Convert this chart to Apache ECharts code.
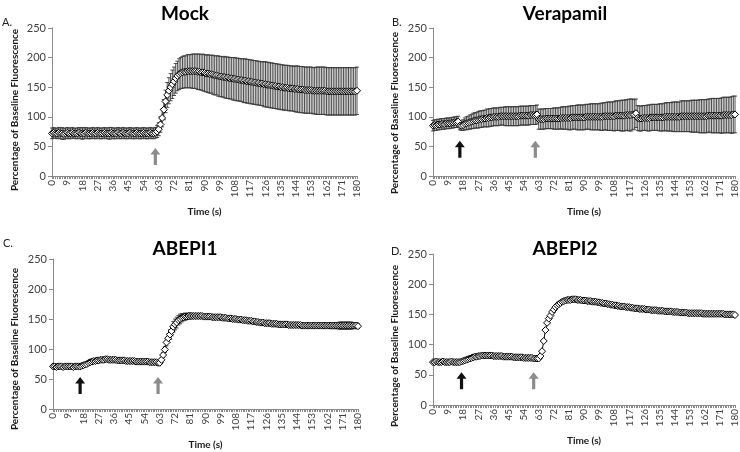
<!DOCTYPE html>
<html><head><meta charset="utf-8">
<script src="https://cdn.jsdelivr.net/npm/echarts@6/dist/echarts.min.js"></script>
<style>html,body{margin:0;padding:0;background:#fff}#c{width:740px;height:452px}</style>
</head><body><div id="c"></div>
<script>
const times = [0,1,2,3,4,5,6,7,8,9,10,11,12,13,14,15,16,17,18,19,20,21,22,23,24,25,26,27,28,29,30,31,32,33,34,35,36,37,38,39,40,41,42,43,44,45,46,47,48,49,50,51,52,53,54,55,56,57,58,59,60,61,62,63,64,65,66,67,68,69,70,71,72,73,74,75,76,77,78,79,80,81,82,83,84,85,86,87,88,89,90,91,92,93,94,95,96,97,98,99,100,101,102,103,104,105,106,107,108,109,110,111,112,113,114,115,116,117,118,119,120,121,122,123,124,125,126,127,128,129,130,131,132,133,134,135,136,137,138,139,140,141,142,143,144,145,146,147,148,149,150,151,152,153,154,155,156,157,158,159,160,161,162,163,164,165,166,167,168,169,170,171,172,173,174,175,176,177,178,179,180];

const yTicks = [0, 50, 100, 150, 200, 250];
const panelTitles = ['Mock', 'Verapamil', 'ABEPI1', 'ABEPI2'];
const panelLetters = ['A.', 'B.', 'C.', 'D.'];

const mockMean = [
72,73,72,72,73,72,72,71,72,73,
72,72,73,72,72,72,73,72,72,72,
73,72,72,72,73,72,72,73,72,72,
72,73,72,72,72,73,72,72,72,73,
72,72,73,72,72,72,73,72,72,72,
73,72,72,72,73,72,72,72,73,72,
72,73,75,79,87,98,112,126,137,144,
150,155,160,165,169,172,174,175,176,176,
177,177,177,177,177,177,176,176,175,175,
174,173,173,172,172,171,170,170,169,168,
168,167,167,166,166,165,165,164,164,163,
163,162,162,161,161,160,160,159,159,158,
158,157,157,156,156,155,155,154,154,153,
153,152,152,151,151,150,150,149,149,149,
148,148,148,147,147,147,146,146,146,145,
145,145,145,145,144,144,144,144,144,144,
144,144,143,143,143,143,143,143,143,143,
143,143,143,143,143,143,143,143,143,143,
144];
const mockErr = [
9,9,8,9,9,9,10,9,9,9,
9,9,9,8,9,9,9,9,10,9,
9,9,9,9,9,9,9,9,9,9,
9,9,9,9,10,9,9,9,9,9,
9,9,9,9,9,9,9,9,9,9,
9,9,9,9,9,9,9,9,9,9,
9,9,10,11,13,15,17,19,21,22,
23,24,24,25,25,26,26,27,27,27,
28,28,28,29,29,29,30,30,30,31,
31,31,32,32,32,33,33,33,34,34,
34,34,35,35,35,35,35,36,36,36,
36,36,36,37,37,37,37,37,37,37,
37,37,37,37,37,38,38,38,38,38,
38,38,38,38,38,38,38,38,38,38,
38,38,38,38,39,39,39,39,39,39,
39,39,39,39,39,39,40,40,40,40,
40,40,40,40,40,40,40,40,40,40,
40,40,40,40,40,40,40,40,40,40,
40];

const veraMean = [
85,86,86,87,87,88,88,88,89,89,
89,90,90,91,91,92,85,85,86,88,
89,90,91,92,93,94,94,95,96,96,
97,97,98,98,99,99,100,100,100,100,
101,101,101,101,101,101,101,101,101,101,
101,101,102,102,102,102,102,102,103,103,
103,103,104,96,96,96,96,97,97,97,
97,97,97,97,97,97,98,98,98,98,
98,98,98,99,99,99,99,99,99,99,
99,100,100,100,100,100,100,100,100,100,
100,100,101,101,101,101,101,101,101,102,
102,102,102,102,102,103,103,103,103,104,
104,106,98,97,97,98,98,98,98,98,
99,99,99,99,99,99,99,99,100,100,
100,100,100,100,100,100,100,100,101,101,
101,101,101,101,101,101,101,101,101,101,
101,101,101,101,102,102,102,102,102,102,
102,102,102,103,103,103,103,103,103,104,
104];
const veraErr = [
9,9,9,9,9,9,9,9,9,9,
9,9,9,9,9,9,7,8,9,10,
11,11,12,12,13,13,13,14,14,14,
14,14,15,15,15,15,15,15,15,15,
15,15,15,16,16,16,16,16,16,16,
16,16,16,16,16,16,16,16,16,16,
16,16,16,17,17,17,17,17,17,17,
17,17,18,18,18,18,18,19,19,19,
19,20,20,20,20,20,21,21,21,21,
21,21,21,21,22,22,22,22,22,22,
23,23,23,23,24,24,24,24,25,25,
25,25,26,26,26,26,26,27,27,26,
25,24,21,21,21,21,21,21,22,22,
22,22,22,22,22,23,23,23,23,24,
24,24,24,25,25,25,25,25,26,26,
26,26,26,26,27,27,27,27,27,28,
28,28,28,28,28,28,29,29,29,29,
29,29,30,30,30,30,30,30,31,31,
31];

const abepi1Mean = [
71,71,70,71,71,71,70,71,71,71,
71,71,70,71,71,71,71,72,73,74,
75,77,78,79,80,80,81,81,82,82,
82,83,83,82,82,82,82,82,81,81,
81,81,81,80,80,80,80,80,80,79,
79,79,79,79,79,79,79,78,78,78,
78,78,77,77,82,90,99,111,118,124,
130,137,141,144,148,150,152,153,154,154,
155,155,155,155,155,155,155,155,155,154,
154,154,154,154,153,153,153,153,153,153,
152,152,152,151,151,151,150,150,150,149,
149,149,148,148,148,147,147,147,146,146,
145,145,144,144,144,143,143,143,143,142,
142,142,142,141,141,141,141,141,141,140,
140,140,140,140,140,140,140,139,139,139,
139,139,139,139,139,139,139,139,139,139,
139,139,139,139,139,139,139,139,139,139,
139,139,139,139,139,139,139,139,139,139,
138];
const abepi1Err = [
2,2,2,2,2,2,2,2,2,2,
2,2,2,2,2,2,2,2,2,2,
2,2,2,3,3,3,3,3,3,3,
3,3,3,3,3,3,3,3,3,3,
2,2,2,2,2,2,2,2,2,2,
2,2,2,2,2,2,2,2,2,2,
2,2,2,2,3,4,5,6,7,8,
8,9,9,9,8,8,7,6,6,5,
5,5,4,4,3,3,3,3,3,3,
3,3,3,3,3,3,3,3,3,3,
3,3,3,3,3,3,3,3,3,3,
3,3,3,3,3,3,3,3,3,3,
3,3,3,3,3,3,3,3,3,3,
3,3,3,3,3,3,3,3,3,3,
3,3,3,3,3,3,3,3,3,3,
3,3,3,3,3,3,3,3,3,4,
4,4,4,4,5,5,5,5,5,6,
6,6,6,6,6,6,6,5,5,5,
4];

const abepi2Mean = [
71,71,72,71,71,71,72,71,71,71,
71,72,71,71,71,71,71,72,73,74,
75,76,77,78,79,80,80,81,81,82,
82,82,82,82,82,82,81,81,81,81,
81,81,80,80,80,80,80,80,79,79,
79,79,79,79,78,78,78,78,78,78,
77,77,77,77,81,89,106,124,136,143,
148,154,158,162,165,167,169,171,172,173,
174,174,174,175,175,175,174,174,174,173,
173,173,172,172,172,171,171,171,170,170,
169,169,168,168,167,167,166,166,165,165,
164,164,163,163,163,162,162,162,161,161,
160,160,160,159,159,159,159,158,158,158,
157,157,157,157,156,156,156,156,155,155,
155,155,155,154,154,154,154,153,153,153,
153,153,152,152,152,152,152,152,152,152,
152,151,151,151,151,151,151,151,151,151,
151,151,151,151,150,150,150,150,150,150,
149];
const abepi2Err = [
2,2,2,2,2,2,2,2,2,2,
2,2,2,2,2,2,2,2,2,2,
2,2,2,2,2,2,2,2,2,2,
2,2,2,2,2,2,2,2,2,2,
2,2,2,2,2,2,2,2,2,2,
2,2,2,2,2,2,2,2,2,2,
2,2,2,2,2,2,2,2,2,2,
2,2,2,2,2,2,2,2,2,2,
2,2,2,2,2,2,2,2,2,2,
2,2,2,2,3,3,3,3,3,3,
3,3,3,3,3,2,2,2,2,2,
2,2,2,2,2,2,2,2,2,2,
2,2,2,2,2,2,2,2,2,2,
2,2,2,2,2,2,2,2,2,2,
2,2,2,2,2,2,2,2,2,2,
2,2,2,2,2,2,2,2,2,2,
2,2,2,2,2,2,2,2,2,2,
2,2,2,2,2,2,2,2,2,2,
2];

// arrow annotations: [time, value at arrow centre]
const blackArrows = [null, [16, 45], [16, 39], [17, 40]];
const grayArrows = [[61, 33], [61, 45], [62, 39], [60, 40]];

const means = [mockMean, veraMean, abepi1Mean, abepi2Mean];
const errs = [mockErr, veraErr, abepi1Err, abepi2Err];

const FONT = 'Lato, "Open Sans", sans-serif';
const grids = [
  {left: 52, top: 28, width: 305, height: 148},
  {left: 433, top: 28, width: 303, height: 148},
  {left: 53, top: 259, width: 305, height: 150},
  {left: 433, top: 254, width: 303, height: 151}
];
const titlePos = [[180, 9], [560, 9], [180, 244], [560, 244]];
const letterPos = [[2, 22], [392, 22], [3, 243], [391, 251]];
const yNamePos = [[15, 110], [395, 113], [15, 349], [395, 346]];

const ARROW = 'path://M5,0 L10,6.5 L6.6,6.5 L6.6,17 L3.4,17 L3.4,6.5 L0,6.5 Z';

const xAxes = [], yAxes = [], series = [], titles = [], graphics = [];
grids.forEach((g, k) => {
  xAxes.push({
    type: 'category', gridIndex: k, data: times.map(String), boundaryGap: false,
    name: 'Time (s)', nameLocation: 'middle', nameGap: 31,
    nameTextStyle: {fontFamily: FONT, fontWeight: 'bold', fontSize: 10, color: '#1a1a1a'},
    axisLine: {lineStyle: {color: '#8a8a8a', width: 1}},
    axisTick: {show: true, interval: 0, length: 3, lineStyle: {color: '#8a8a8a'}},
    axisLabel: {interval: 8, rotate: 90, fontSize: 10, margin: 4, color: '#404040', fontFamily: FONT},
    splitLine: {show: false}
  });
  yAxes.push({
    type: 'value', gridIndex: k, min: yTicks[0], max: yTicks[yTicks.length - 1], interval: yTicks[1] - yTicks[0],
    axisLine: {show: true, lineStyle: {color: '#8a8a8a', width: 1}},
    axisTick: {show: true, length: 4, lineStyle: {color: '#8a8a8a'}},
    axisLabel: {fontSize: 11, margin: 6, color: '#404040', fontFamily: FONT},
    splitLine: {show: false}
  });
  const mean = means[k], err = errs[k];
  series.push({
    type: 'custom', xAxisIndex: k, yAxisIndex: k, z: 2, silent: true,
    encode: {x: 0, y: [1, 2]},
    data: mean.map((m, i) => [i, m - err[i], m + err[i]]),
    renderItem: (params, api) => {
      const lo = api.coord([api.value(0), api.value(1)]);
      const hi = api.coord([api.value(0), api.value(2)]);
      const hw = 2;
      const st = {stroke: '#3a3a3a', lineWidth: 0.9, fill: null};
      return {type: 'group', children: [
        {type: 'line', shape: {x1: hi[0], y1: hi[1], x2: lo[0], y2: lo[1]}, style: st},
        {type: 'line', shape: {x1: hi[0] - hw, y1: hi[1], x2: hi[0] + hw, y2: hi[1]}, style: st},
        {type: 'line', shape: {x1: lo[0] - hw, y1: lo[1], x2: lo[0] + hw, y2: lo[1]}, style: st}
      ]};
    }
  });
  const mp = [];
  if (blackArrows[k]) mp.push({coord: [blackArrows[k][0], blackArrows[k][1]], itemStyle: {color: '#111'}});
  mp.push({coord: [grayArrows[k][0], grayArrows[k][1]], itemStyle: {color: '#8c8c8c'}});
  series.push({
    type: 'line', xAxisIndex: k, yAxisIndex: k, z: 3, data: mean,
    symbol: 'diamond', symbolSize: 7, showAllSymbol: true,
    itemStyle: {color: '#ffffff', borderColor: '#000000', borderWidth: 1},
    lineStyle: {color: '#000000', width: 1},
    emphasis: {disabled: true},
    markPoint: {
      symbol: ARROW, symbolSize: [10, 17], silent: true, label: {show: false},
      data: mp
    }
  });
  titles.push({
    text: panelTitles[k], left: titlePos[k][0], top: titlePos[k][1], textAlign: 'center',
    textVerticalAlign: 'middle',
    textStyle: {fontFamily: FONT, fontWeight: 'bold', fontSize: 19, color: '#000'}
  });
  graphics.push({
    type: 'text', x: letterPos[k][0], y: letterPos[k][1],
    style: {text: panelLetters[k], font: '11px ' + FONT, fill: '#222', textVerticalAlign: 'middle'}
  });
  graphics.push({
    type: 'text', x: yNamePos[k][0], y: yNamePos[k][1], rotation: Math.PI / 2,
    style: {text: 'Percentage of Baseline Fluorescence', font: 'bold 10px ' + FONT, fill: '#1a1a1a',
      textAlign: 'center', textVerticalAlign: 'middle'}
  });
});

const chart = echarts.init(document.getElementById('c'), null, {renderer: 'canvas'});
chart.setOption({
  animation: false,
  backgroundColor: '#ffffff',
  title: titles,
  grid: grids,
  xAxis: xAxes,
  yAxis: yAxes,
  series: series,
  graphic: graphics
});
</script>
</body></html>
